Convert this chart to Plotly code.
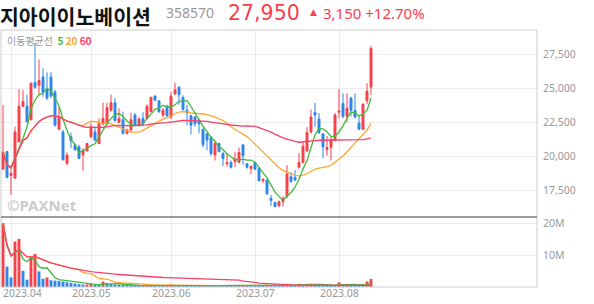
import pandas as pd
import plotly.graph_objects as go
from plotly.subplots import make_subplots

# ---------------- data ----------------
stock_name = "지아이이노베이션"
stock_code = "358570"
last_price = "27,950"
change_abs = "3,150"
change_pct = "+12.70%"

holidays = ["2023-05-01", "2023-05-05", "2023-05-29", "2023-06-06"]
dates = [d.strftime("%Y-%m-%d") for d in pd.bdate_range("2023-03-30", "2023-08-11")
         if d.strftime("%Y-%m-%d") not in holidays]

opens = [19050, 20350, 18600, 18400, 21100, 23700, 23700, 22700, 25450, 25250,
         25850, 25000, 25850, 24750, 22000, 21800, 19500, 21450, 20850, 20700,
         20100, 20400, 21450, 21800, 20950, 22400, 22450, 23400, 23950, 22500,
         22700, 21700, 21950, 23050, 22300, 22800, 22800, 23300, 24450, 24100,
         23050, 23700, 22900, 24600, 25100, 24350, 23400, 23000, 22900, 22700,
         22000, 21650, 21400, 20100, 20950, 20200, 19450, 19550, 19600, 19550,
         20850, 19450, 19100, 19550, 19100, 18200, 18250, 16900, 16600, 16350,
         16650, 17050, 18500, 18450, 19200, 19550, 20400, 21800, 23250, 22750,
         21650, 20500, 20650, 21200, 23250, 23900, 22950, 24300, 23400, 22450,
         22000, 24100, 25100]
highs = [23800, 20400, 19350, 22200, 24950, 24900, 24550, 25450, 28400, 27150,
         26500, 26200, 26200, 24900, 23600, 21950, 20300, 21750, 20950, 20850,
         20600, 21000, 22450, 22200, 22800, 23950, 23950, 24550, 24300, 23550,
         23300, 22050, 23200, 23200, 22900, 23250, 23850, 24400, 24500, 24150,
         23550, 23800, 24750, 25450, 25150, 24500, 23800, 23050, 23000, 22750,
         22050, 21750, 21500, 21100, 21000, 20350, 20250, 19700, 20350, 20650,
         20850, 19500, 19350, 19600, 19200, 18400, 18300, 17150, 16650, 16750,
         17050, 19350, 18850, 19000, 20250, 21100, 22150, 23450, 23950, 23200,
         21700, 21500, 21450, 23200, 24950, 24650, 24650, 24400, 24650, 23050,
         23900, 25400, 28150]
lows = [19000, 18400, 17150, 18350, 21000, 23650, 22500, 22650, 25000, 24550,
        24400, 24150, 24300, 22200, 21950, 19700, 19350, 20600, 20400, 19800,
        18950, 20350, 21350, 21100, 20900, 22300, 22300, 23300, 22550, 22450,
        21600, 21600, 21800, 22200, 22200, 22200, 22700, 23250, 24050, 23200,
        22900, 22900, 22750, 24550, 23800, 23400, 22300, 21600, 22200, 21700,
        20650, 20450, 20050, 19700, 20300, 19300, 19250, 19100, 19200, 19500,
        19350, 19100, 18700, 19000, 18150, 18050, 17150, 16350, 16250, 16300,
        16300, 16900, 18050, 18200, 19100, 19500, 20350, 21700, 22200, 21650,
        19850, 20050, 19700, 21150, 22800, 22800, 22500, 22950, 22800, 21950,
        21950, 23850, 24550]
closes = [20300, 18450, 18750, 21800, 23700, 24050, 22550, 25400, 25100, 25600,
          24700, 24300, 24450, 22300, 22900, 19750, 20100, 21150, 20500, 19850,
          20450, 20950, 22200, 21200, 22400, 22800, 23600, 23950, 22650, 22800,
          21700, 21950, 22700, 22300, 22750, 22400, 23700, 24350, 24150, 23300,
          23400, 23000, 24450, 24900, 24550, 23450, 23200, 22300, 22400, 22400,
          20850, 21200, 20200, 20950, 20350, 19850, 19550, 19200, 19850, 20300,
          20050, 19200, 19250, 19050, 18200, 18300, 17250, 16750, 16300, 16650,
          16900, 18700, 18150, 18250, 19550, 20750, 21750, 22900, 23050, 21750,
          20700, 20650, 21250, 23050, 23350, 22950, 23550, 23400, 22900, 22000,
          23850, 24800, 27950]
volumes_m = [20.0, 6.4, 3.0, 14.3, 15.1, 5.1, 2.3, 9.3, 10.4, 4.9,
             2.6, 3.0, 2.1, 2.0, 1.9, 1.7, 1.5, 1.3, 1.1, 0.9,
             0.75, 0.8, 0.95, 0.6, 0.5, 1.7, 1.25, 0.95, 0.8, 0.7,
             0.6, 0.55, 0.45, 0.4, 0.35, 0.3, 0.6, 0.45, 0.35, 0.3,
             0.28, 0.6, 0.8, 0.55, 0.5, 0.45, 0.42, 0.4, 0.38, 0.36,
             0.55, 0.45, 0.42, 0.4, 0.38, 0.36, 0.35, 0.34, 0.33, 0.32,
             0.35, 0.32, 0.3, 0.29, 0.28, 0.27, 0.4, 0.35, 0.3, 0.28,
             0.27, 1.0, 0.6, 0.5, 1.0, 0.6, 1.0, 1.05, 0.7, 0.6,
             0.55, 0.5, 0.45, 0.4, 1.45, 0.7, 1.0, 0.6, 0.5, 0.45,
             0.4, 1.75, 2.5]
volumes = [v * 1e6 for v in volumes_m]

ma_windows = [5, 20, 60]
price_ticks = [17500, 20000, 22500, 25000, 27500]
vol_ticks = [10e6, 20e6]
vol_tick_text = ["10M", "20M"]

# ---------------- styles ----------------
RED = "#f5414c"
BLUE = "#2f86e8"
MA_COLORS = {5: "#3dbb3d", 20: "#ffa630", 60: "#f7406a"}
GRID = "#ececec"
FRAME = "#cccccc"
LABEL = "#999999"
FONT = "Noto Sans, Noto Sans CJK KR, sans-serif"
KFONT = "Noto Sans CJK KR, Noto Sans, sans-serif"

W, H = 594, 304
ML, MR, MT, MB = 1, 57, 30, 17
PLOT_W = W - ML - MR
PLOT_H = H - MT - MB
split = 70 / PLOT_H   # volume panel height fraction


def px_x(px):
    return (px - ML) / PLOT_W


def px_y(py):
    return (H - MB - py) / PLOT_H


month_starts = []
for i, d in enumerate(dates):
    if i > 0 and d[:7] != dates[i - 1][:7]:
        month_starts.append(d)
month_labels = [d[:7].replace("-", ".") for d in month_starts]

fig = make_subplots(rows=2, cols=1, shared_xaxes=True, vertical_spacing=0,
                    row_heights=[1 - split, split])

fig.add_trace(go.Candlestick(
    x=dates, open=opens, high=highs, low=lows, close=closes,
    increasing=dict(line=dict(color=RED, width=1), fillcolor=RED),
    decreasing=dict(line=dict(color=BLUE, width=1), fillcolor=BLUE),
    whiskerwidth=0, showlegend=False, hoverinfo="skip"), row=1, col=1)

cs = pd.Series(closes)
vs = pd.Series(volumes)
for n in [20, 5, 60]:
    fig.add_trace(go.Scatter(x=dates, y=cs.rolling(n, min_periods=1).mean(), mode="lines",
                             line=dict(color=MA_COLORS[n], width=1.3), showlegend=False,
                             hoverinfo="skip"), row=1, col=1)

vol_colors = [RED if i == 0 or volumes[i] > volumes[i - 1] else BLUE for i in range(len(volumes))]
fig.add_trace(go.Bar(x=dates, y=volumes, marker=dict(color=vol_colors, line=dict(width=0)),
                     width=0.72, showlegend=False, hoverinfo="skip"), row=2, col=1)
for n in [20, 5, 60]:
    fig.add_trace(go.Scatter(x=dates, y=vs.rolling(n, min_periods=1).mean(), mode="lines",
                             line=dict(color=MA_COLORS[n], width=1.3), showlegend=False,
                             hoverinfo="skip"), row=2, col=1)

xr = [-0.5, -0.5 + PLOT_W / 4]
for r in (1, 2):
    fig.update_xaxes(type="category", range=xr, tickvals=month_starts, showticklabels=False,
                     showgrid=True, gridcolor=GRID, gridwidth=1, showline=False, zeroline=False,
                     rangeslider=dict(visible=False), ticks="", row=r, col=1)

fig.update_yaxes(side="right", range=[15530, 29320], tickvals=price_ticks,
                 ticktext=[f"{v:,}" for v in price_ticks], showgrid=True, gridcolor=GRID,
                 zeroline=False, showline=False, ticks="", ticklabelstandoff=5,
                 tickfont=dict(family=FONT, size=10.5, color=LABEL), row=1, col=1)
fig.update_yaxes(side="right", range=[0, 22e6], tickvals=vol_ticks, ticktext=vol_tick_text,
                 showgrid=True, gridcolor=GRID, zeroline=False, showline=False, ticks="",
                 ticklabelstandoff=5, tickfont=dict(family=FONT, size=10.5, color=LABEL),
                 row=2, col=1)

shapes = [
    dict(type="rect", xref="paper", yref="paper", x0=0, x1=1, y0=0, y1=1,
         line=dict(color=FRAME, width=1)),
    dict(type="line", xref="paper", yref="paper", x0=0, x1=1, y0=split, y1=split,
         line=dict(color="#3a3a3a", width=1.2)),
]

ann = []
ann.append(dict(text=f"<b>{stock_name}</b>", x=px_x(-1), y=px_y(0), xref="paper", yref="paper",
                xanchor="left", yanchor="top", showarrow=False, borderpad=0,
                font=dict(family=KFONT, size=20.5, color="#111111")))
ann.append(dict(text=stock_code, x=px_x(164), y=px_y(12.5), xref="paper", yref="paper",
                xanchor="left", yanchor="middle", showarrow=False,
                font=dict(family=FONT, size=14, color=LABEL)))
ann.append(dict(text=last_price, x=px_x(227), y=px_y(0), xref="paper", yref="paper",
                xanchor="left", yanchor="top", showarrow=False, borderpad=0,
                font=dict(family="DejaVu Sans", size=20.5, color=RED)))
ann.append(dict(text="▲", x=px_x(308), y=px_y(11.5), xref="paper", yref="paper",
                xanchor="left", yanchor="middle", showarrow=False,
                font=dict(family="DejaVu Sans", size=9, color=RED)))
ann.append(dict(text=f"{change_abs} {change_pct}", x=px_x(320.5), y=px_y(12.5), xref="paper",
                yref="paper", xanchor="left", yanchor="middle", showarrow=False,
                font=dict(family=FONT, size=15, color=RED)))
legend_txt = ("이동평균선  " + " ".join(
    f"<span style='color:{MA_COLORS[n]}'><b>{n}</b></span>" for n in ma_windows))
ann.append(dict(text=legend_txt, x=px_x(5), y=px_y(41), xref="paper", yref="paper",
                xanchor="left", yanchor="middle", showarrow=False,
                font=dict(family=KFONT, size=10, color=LABEL)))
ann.append(dict(text="<b>©PAXNet</b>", x=px_x(5), y=px_y(205), xref="paper", yref="paper",
                xanchor="left", yanchor="middle", showarrow=False,
                font=dict(family=FONT, size=15, color="#cccccc")))
for k, (d, lab) in enumerate(zip(month_starts, month_labels)):
    if k == 0:
        ann.append(dict(text=lab, x=px_x(1), y=px_y(292.5), xref="paper", yref="paper",
                        xanchor="left", yanchor="middle", showarrow=False,
                        font=dict(family=FONT, size=10.5, color=LABEL)))
    else:
        ann.append(dict(text=lab, x=d, y=px_y(292.5), xref="x2", yref="paper",
                        xanchor="center", yanchor="middle", showarrow=False,
                        font=dict(family=FONT, size=10.5, color=LABEL)))

fig.update_layout(width=W, height=H, margin=dict(l=ML, r=MR, t=MT, b=MB),
                  paper_bgcolor="white", plot_bgcolor="white", shapes=shapes,
                  annotations=ann, showlegend=False, bargap=0.25,
                  font=dict(family=FONT, color=LABEL))

fig.write_html("out.html")
